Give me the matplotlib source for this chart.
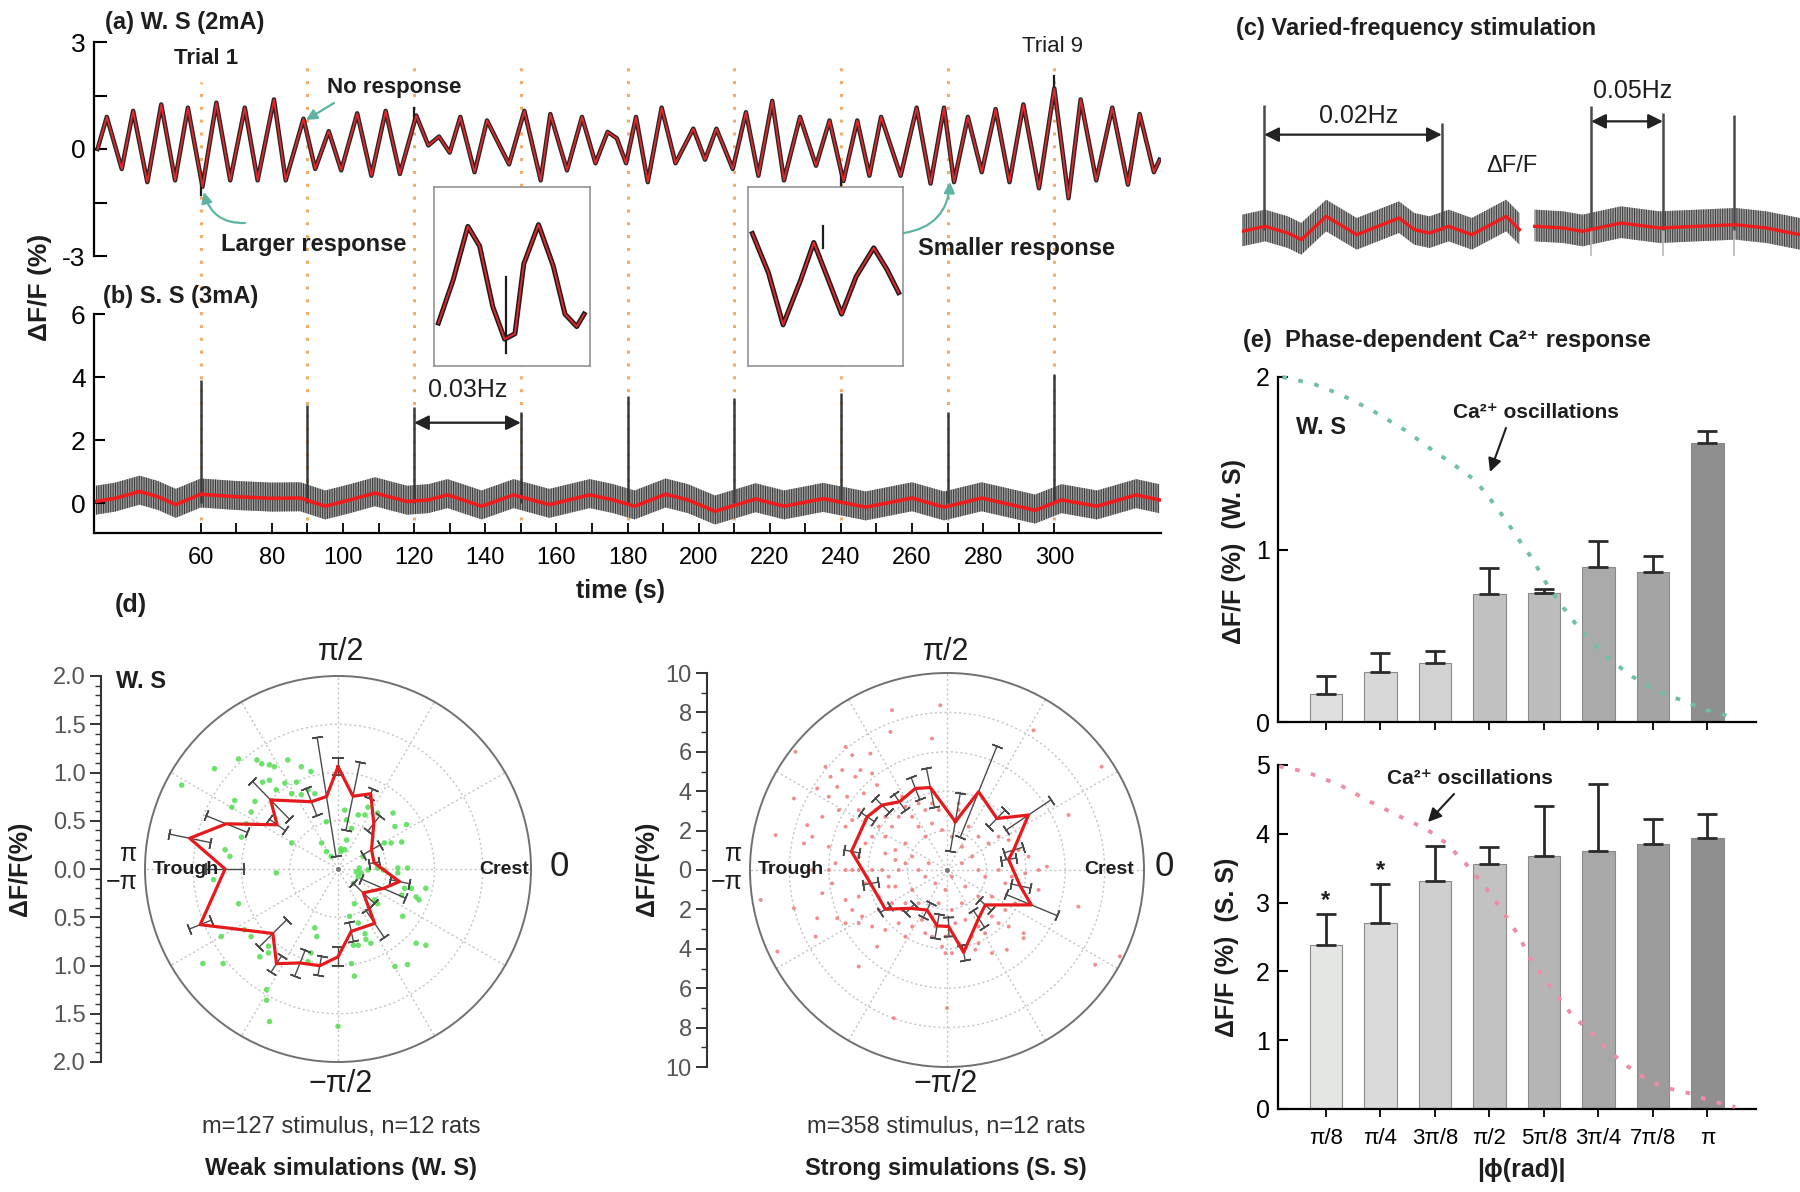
import numpy as np
import matplotlib
matplotlib.use("Agg")
import matplotlib.pyplot as plt
import matplotlib.transforms as mtransforms
from matplotlib.lines import Line2D
from matplotlib.patches import FancyArrowPatch
from matplotlib.ticker import MultipleLocator

plt.rcParams['font.family'] = ['Liberation Sans', 'DejaVu Sans']
plt.rcParams['axes.unicode_minus'] = False
plt.rcParams['hatch.linewidth'] = 0.8

# ======================= DATA =======================
stim_times = [60, 90, 120, 150, 180, 210, 240, 270, 300]

# (a) W.S trace, peak / trough vertices (time s, dF/F %)
ws_trace = [(31, 0.0), (33.6, 0.9), (37.8, -0.56), (41, 1.07), (45, -0.93), (48.9, 1.25),
            (52.8, -0.88), (56.4, 1.16), (60.5, -1.06), (64.4, 1.3), (68.3, -0.88), (72.4, 1.16),
            (76, -0.88), (80.6, 1.39), (83.9, -0.88), (88.9, 0.85), (92.2, -0.56), (96, 0.5),
            (99.5, -0.6), (104, 1.0), (108, -0.75), (112, 1.07), (116, -0.7), (120.6, 0.94),
            (124, 0.1), (127, 0.35), (130, -0.1), (133, 0.9), (137, -0.65), (140.5, 0.8),
            (146.7, -0.43), (151, 1.07), (155.6, -0.88), (158.3, 0.98), (163, -0.6), (167.2, 0.9),
            (171, -0.4), (174.4, 0.48), (177, 0.3), (179.6, -0.4), (182.4, 0.9), (185.7, -0.93),
            (189.6, 1.16), (193.5, -0.4), (198.5, 0.57), (201.8, -0.3), (205, 0.57), (209.6, -0.56),
            (213.3, 1.03), (216.8, -0.75), (220.7, 1.35), (224, -0.88), (228.5, 0.9), (233, -0.47),
            (236.8, 0.8), (240.7, -0.9), (244.6, 0.8), (248, -0.75), (251.3, 0.9), (256.8, -0.75),
            (261.3, 1.16), (265.2, -0.97), (269, 1.16), (271.8, -0.93), (275.7, 0.9), (279.6, -0.65),
            (283.5, 1.12), (287.4, -0.93), (291.3, 1.25), (295.7, -1.1), (300, 1.7), (304, -1.38),
            (307.4, 1.39), (311.8, -0.88), (316.3, 1.16), (320.7, -1.0), (324, 0.98), (328, -0.65),
            (329.6, -0.3)]
ws_spike_t = [60, 120, 240, 300]
ws_spike_v = [-1.3, 1.15, -1.45, 2.05]

# (b) S.S slow trace (time s, dF/F %) and stimulus spikes
ss_trace = [(30.5, 0.05), (36, 0.15), (42.8, 0.37), (48, 0.2), (53, -0.05), (60, 0.28), (70, 0.2),
            (80, 0.15), (88, 0.16), (95, -0.1), (102, 0.1), (109, 0.32), (118, 0.05), (124, 0.1),
            (129.4, 0.26), (139, -0.1), (148, 0.26), (158, -0.05), (169.4, 0.26), (176, 0.1),
            (182, -0.1), (190.7, 0.28), (197, 0.1), (204.6, -0.26), (216, 0.13), (224, -0.1),
            (235, 0.14), (247, -0.13), (260, 0.16), (269, -0.13), (279.6, 0.16), (294.6, -0.23),
            (302, 0.1), (312, -0.1), (323, 0.26), (329.5, 0.1)]
ss_spike_v = [3.9, 3.1, 3.05, 2.9, 3.4, 3.35, 3.5, 2.9, 4.1]

# insets (normalised inset coordinates)
ins1_x = [0.0, 0.10, 0.20, 0.28, 0.37, 0.45, 0.52, 0.58, 0.68, 0.78, 0.86, 0.94, 0.99]
ins1_y = [0.24, 0.48, 0.78, 0.67, 0.33, 0.15, 0.18, 0.57, 0.79, 0.56, 0.29, 0.22, 0.29]
ins1_spike = (0.46, 0.50, 0.07)
ins2_x = [0.0, 0.11, 0.21, 0.33, 0.42, 0.52, 0.61, 0.71, 0.83, 0.92, 1.0]
ins2_y = [0.74, 0.52, 0.23, 0.48, 0.69, 0.48, 0.29, 0.50, 0.66, 0.54, 0.41]
ins2_spike = (0.48, 0.66, 0.78)

# (c) varied-frequency traces (time s, dF/F a.u.)
c_left = [(0, -0.05), (6.5, 0.1), (12.9, -0.1), (16.7, -0.3), (23.7, 0.4), (32.3, -0.15),
          (44.2, 0.35), (48.5, 0.0), (52.8, -0.1), (58.2, 0.1), (64.7, -0.15), (74.4, 0.4), (78.1, 0.0)]
c_right = [(82.4, 0.1), (90.5, 0.05), (95.9, -0.05), (106.7, 0.2), (117.5, 0.05), (128.2, 0.1),
           (139.0, 0.15), (147.6, 0.05), (157.1, -0.15)]
c_spike_t = [6.25, 56.25, 98.3, 118.5, 138.5]
c_spike_v = [3.75, 3.2, 3.7, 3.5, 3.45]

# (d) polar: mean response per phase bin (deg, dF/F %) + error
ws_phase = [90, 78.4, 66.5, 51.8, 29.7, 9.8, -11.6, -23.3, -43.4, -56, -78, -90, -100.7, -112,
            -123, -135.3, -158, -180, 168.3, 158, 144, 134.3, 111.6, 99]
ws_amp = [1.06, 0.77, 0.85, 0.60, 0.40, 0.38, 0.65, 0.51, 0.36, 0.68, 0.66, 0.91, 1.02, 1.05,
          1.17, 0.95, 1.54, 1.17, 1.57, 1.25, 0.78, 1.0, 0.75, 0.76]
ws_err = [0.09, 0.36, 0.05, 0.10, 0.10, 0.05, 0.10, 0.25, 0.15, 0.17, 0.10, 0.10, 0.10, 0.15,
          0.10, 0.20, 0.12, 0.20, 0.22, 0.23, 0.10, 0.27, 0.15, 0.62]
ss_phase = [80.2, 68.0, 45.9, 34.0, 16.7, 9.8, -12.3, -22.5, -42.4, -56.8, -78.6, -88.3, -100.0,
            -116.6, -133.7, -147.5, -170.0, 169.0, 146.3, 135.0, 124.9, 111.2, 101.4]
ss_amp = [2.49, 4.28, 3.64, 4.99, 3.53, 3.17, 3.80, 4.63, 2.63, 2.93, 4.27, 2.87, 2.88, 2.27,
          2.69, 3.71, 3.94, 4.94, 4.87, 4.66, 4.22, 4.44, 4.27]
ss_err = [1.5, 2.5, 0.6, 1.4, 0.5, 0.4, 0.5, 1.4, 0.4, 0.5, 0.4, 0.5, 0.6, 0.4, 0.3, 0.3, 0.4,
          0.4, 0.4, 0.5, 0.5, 0.6, 1.0]

# individual stimulus responses (dF/F*cos(phase), dF/F*sin(phase))
ws_points = [(-1.62, 0.87), (-1.28, 1.04), (-1.03, 1.14), (-0.84, 1.13), (-0.79, 1.09), (-0.71, 1.08),
             (-0.66, 1.06), (-0.52, 1.13), (-0.38, 1.06), (-0.28, 1.01), (-0.78, 0.90), (-0.71, 0.92),
             (-0.64, 0.82), (-0.55, 0.89), (-0.43, 0.90), (-0.38, 0.77), (-0.31, 0.82), (-0.24, 0.78),
             (-0.48, 0.78), (-1.10, 0.64), (-1.07, 0.71), (-0.86, 0.70), (-0.90, 0.59), (-0.95, 0.47),
             (-1.00, 0.33), (-1.17, 0.20), (-0.48, 0.27), (-0.64, -0.04), (-0.12, 0.18), (-0.07, 0.13),
             (0.03, 0.21), (0.07, 0.20), (0.09, 0.30), (0.14, 0.42), (0.21, 0.56), (0.28, 0.56),
             (0.31, 0.64), (0.41, 0.58), (0.57, 0.58), (0.71, 0.46), (0.66, 0.28), (0.55, 0.27),
             (0.48, 0.27), (0.59, 0.44), (0.26, 0.13), (0.22, 0.01), (0.19, -0.03), (0.21, -0.08),
             (0.24, -0.04), (0.31, -0.01), (0.41, 0.01), (0.47, -0.01), (0.62, 0.01), (0.72, 0.01),
             (0.62, -0.04), (0.69, -0.20), (0.76, -0.20), (0.66, -0.27), (0.81, -0.29), (0.91, -0.20),
             (0.84, -0.32), (0.67, -0.49), (0.38, -0.32), (0.41, -0.36), (0.16, -0.15), (0.17, -0.36),
             (0.12, -0.49), (0.21, -0.56), (0.28, -0.67), (0.29, -0.73), (0.34, -0.77), (0.21, -0.79),
             (0.16, -0.79), (0.14, -0.98), (0.17, -1.11), (0.59, -1.01), (0.72, -0.99), (0.81, -0.77),
             (0.91, -0.79), (-0.24, -0.61), (-0.22, -0.70), (-0.28, -0.87), (-0.31, -0.96), (-0.72, -0.80),
             (-0.72, -0.87), (-0.81, -0.91), (-0.90, -0.70), (-1.21, -0.70), (-1.19, -0.98), (-1.40, -0.98),
             (-1.29, -0.11), (-0.74, -1.25), (-0.74, -1.36), (-0.71, -1.58), (0.00, -1.63), (0.07, 0.61),
             (0.09, 0.51), (-0.12, 0.49), (-0.17, 0.27), (0.03, 0.18), (-1.12, 0.13), (-1.03, -0.36),
             (-0.97, -0.63)]
ss_points = [(-0.34, 8.36), (-2.79, 8.11), (-0.76, 6.67), (-2.87, 7.01), (4.39, 7.09), (7.85, 5.24),
             (-7.69, 6.0), (-5.15, 6.25), (-4.81, 5.83), (-3.89, 5.91), (-7.77, 3.63), (-8.70, 1.77),
             (-9.46, -1.52), (-7.77, -1.94), (-8.61, -4.14), (-6.59, -2.45), (-6.67, -3.38), (-4.48, -4.90),
             (-3.55, -3.89), (-2.70, -7.52), (0.0, -7.01), (2.28, -4.22), (3.04, -4.05), (3.89, -3.21),
             (3.89, -3.46), (6.67, -1.86), (7.52, -4.81), (8.78, -4.39), (6.17, 2.79), (5.07, 0.17),
             (4.65, 0.0), (3.13, -2.87), (1.44, -4.05), (-0.08, -4.22), (-6.17, 5.24), (-5.91, 4.73),
             (-6.59, 4.14), (-6.0, 3.72), (-5.57, 4.22), (-5.32, 5.07), (-4.65, 4.73), (-4.39, 5.07),
             (-3.80, 4.90), (-3.55, 4.31), (-4.22, 3.89), (-5.07, 3.72), (-5.49, 3.04), (-6.33, 2.70),
             (-7.09, 2.28), (-6.84, 1.69), (-7.26, 1.35), (-6.0, 1.18), (-5.15, 2.20), (-4.81, 2.53),
             (-4.48, 3.04), (-5.66, 0.34), (-5.15, 0.0), (-5.83, -0.68), (-6.33, -1.18), (-5.15, -1.52),
             (-4.81, -2.03), (-5.57, -2.45), (-4.31, -2.36), (-3.80, -2.87), (-5.15, -2.70), (-3.13, -3.04),
             (-2.45, -2.70), (-2.11, -3.38), (-1.77, -2.87), (-1.10, -3.21), (-0.76, -3.38), (-0.25, -3.89),
             (0.25, -4.22), (0.59, -3.72), (1.27, -3.38), (1.60, -3.72), (1.94, -3.21), (2.62, -2.70),
             (2.96, -2.03), (3.46, -1.69), (2.28, -1.35), (1.60, -1.35), (0.93, -0.84), (0.76, -1.69),
             (0.25, -2.03), (-0.42, -1.69), (-0.76, -2.36), (-1.44, -1.69), (-1.77, -1.01), (-2.11, -1.69),
             (-2.62, -0.84), (-2.96, -0.34), (-3.29, 0.0), (-3.80, 0.0), (-4.14, -0.68), (-4.48, -1.35),
             (-3.46, -1.35), (-2.79, -1.69), (-2.28, -2.03), (-3.13, 0.84), (-2.62, 1.01), (-2.11, 1.35),
             (-1.77, 0.68), (-1.44, 0.0), (-0.93, 0.34), (-1.10, -0.34), (-0.59, -0.68), (-0.08, -1.01),
             (0.25, -0.34), (0.76, 0.34), (1.27, 0.68), (1.60, 0.0), (1.94, -0.34), (2.62, 0.0),
             (2.96, -0.68), (0.76, 1.18), (0.25, 1.69), (-0.25, 2.03), (-0.76, 2.36), (-1.10, 1.69),
             (-1.44, 2.20), (-1.77, 2.70), (-2.11, 3.21), (-2.45, 2.70), (-2.79, 2.20), (-3.13, 1.69),
             (-3.46, 2.20), (-3.80, 1.69), (-4.14, 1.35), (-4.48, 0.68), (-4.81, 0.0), (-2.79, 3.38),
             (-2.28, 3.72), (-1.44, 3.38), (-1.10, 3.04), (-0.76, 3.38), (-0.42, 3.04), (0.59, 3.04),
             (0.59, 3.38), (1.10, 2.20), (1.60, 1.69), (2.11, 1.35), (2.62, 1.69), (3.13, 1.52),
             (3.63, 1.01), (4.14, 0.68), (3.97, -0.17), (4.65, -1.01), (3.29, -0.34), (-3.13, 2.70),
             (-4.14, 2.53), (-3.63, 3.04), (-6.0, 0.0), (-6.84, 0.0), (-4.48, 0.0), (-2.45, 0.0),
             (-2.11, 0.34), (-2.62, 0.51), (-2.96, -0.84), (-3.46, -2.03), (-4.48, -2.70), (-1.27, -2.53),
             (-0.59, -2.87), (-0.08, -3.38), (0.42, -2.70), (0.93, -2.53), (1.60, -2.87), (2.28, -2.36)]

# (e) phase-dependent responses
phase_labels = ['\u03c0/8', '\u03c0/4', '3\u03c0/8', '\u03c0/2', '5\u03c0/8', '3\u03c0/4', '7\u03c0/8', '\u03c0']
ws_bar = [0.16, 0.29, 0.34, 0.74, 0.75, 0.90, 0.87, 1.62]
ws_bar_err = [0.105, 0.11, 0.07, 0.15, 0.02, 0.15, 0.09, 0.065]
ss_bar = [2.38, 2.71, 3.31, 3.56, 3.68, 3.75, 3.85, 3.94]
ss_bar_err = [0.45, 0.56, 0.51, 0.25, 0.72, 0.97, 0.37, 0.35]
ss_star_bars = [0, 1]
ws_osc_x = [0.20, 0.77, 1.26, 1.83, 2.46, 2.89, 3.31, 3.74, 4.02, 4.30, 4.51, 4.80, 5.01, 5.29,
            5.58, 5.86, 6.21, 6.64, 7.06, 7.49, 7.98, 8.55]
ws_osc_y = [2.0, 1.96, 1.90, 1.81, 1.69, 1.59, 1.50, 1.40, 1.29, 1.17, 1.07, 0.94, 0.82, 0.69,
            0.57, 0.47, 0.36, 0.26, 0.18, 0.13, 0.07, 0.02]
ss_osc_x = [0.14, 0.46, 0.81, 1.30, 1.80, 2.36, 2.86, 3.21, 3.56, 3.92, 4.27, 4.55, 4.76, 4.98,
            5.26, 5.54, 5.82, 6.11, 6.46, 6.81, 7.17, 7.66, 8.01, 8.51]
ss_osc_y = [4.98, 4.93, 4.85, 4.69, 4.47, 4.25, 4.06, 3.86, 3.57, 3.23, 2.84, 2.50, 2.17, 1.92,
            1.63, 1.34, 1.15, 0.91, 0.66, 0.47, 0.32, 0.23, 0.13, 0.03]

# ======================= FIGURE =======================
W, H = 1800, 1192
fig = plt.figure(figsize=(18, 11.92), dpi=100)
TXT = '#1e1e1e'


def box(x0, y0, x1, y1):
    return [x0 / W, 1 - y1 / H, (x1 - x0) / W, (y1 - y0) / H]


def P(x, y):
    return (x / W, 1 - y / H)


def T(x, y, s, **kw):
    kw.setdefault('color', TXT)
    return fig.text(x / W, 1 - y / H, s, **kw)


def farrow(p0, p1, rad=0.0, color='#5fb3a3', lw=1.6, ms=16):
    fig.add_artist(FancyArrowPatch(P(*p0), P(*p1), transform=fig.transFigure,
                                   arrowstyle='-|>', mutation_scale=ms, color=color, lw=lw,
                                   connectionstyle='arc3,rad=%s' % rad, shrinkA=0, shrinkB=0))


# ---------- (a) ----------
wt = np.array([p[0] for p in ws_trace]); wv = np.array([p[1] for p in ws_trace])
axA = fig.add_axes(box(94, 42, 1161, 256))
axA.set_zorder(2); axA.patch.set_alpha(0)
axA.set_xlim(30, 330); axA.set_ylim(-3, 3)
for s in ['top', 'right', 'bottom']:
    axA.spines[s].set_visible(False)
axA.spines['left'].set_linewidth(1.6)
axA.set_xticks([])
axA.set_yticks([-3, 0, 3]); axA.set_yticks([-1.5, 1.5], minor=True)
axA.tick_params(axis='y', which='both', direction='in', length=9, width=1.5, labelsize=19, pad=6)
axA.plot(wt, wv, color='#262626', lw=3.2, solid_joinstyle='round')
for t, v in zip(ws_spike_t, ws_spike_v):
    axA.plot([t, t], [np.interp(t, wt, wv), v], color='#1c1c1c', lw=1.6)
axA.plot(wt, wv, color='#e8262a', lw=1.3)

# ---------- (b) ----------
st = np.array([p[0] for p in ss_trace]); sv = np.array([p[1] for p in ss_trace])
axB = fig.add_axes(box(94, 314, 1161, 533))
axB.set_zorder(2); axB.patch.set_alpha(0)
axB.set_xlim(30, 330); axB.set_ylim(-0.95, 6)
for s in ['top', 'right']:
    axB.spines[s].set_visible(False)
axB.spines['left'].set_linewidth(1.6); axB.spines['bottom'].set_linewidth(1.6)
axB.set_yticks([0, 2, 4, 6])
axB.set_xticks(range(60, 301, 20)); axB.set_xticks(range(60, 301, 10), minor=True)
axB.tick_params(axis='y', direction='in', length=8, width=1.5, labelsize=19, pad=6)
axB.tick_params(axis='x', which='both', direction='in', length=7, width=1.3, labelsize=17, pad=10)
axB.fill_between(st, sv - 0.42, sv + 0.5, facecolor='#a2a2a2', edgecolor='#3c3c3c',
                 hatch='|||||||', linewidth=0)
axB.vlines(stim_times, 0, ss_spike_v, color='#3a3a3a', lw=1.8)
axB.plot(st, sv, color='#ee1c1c', lw=2.6)
axB.annotate('', xy=(150, 2.55), xytext=(120, 2.55),
             arrowprops=dict(arrowstyle='<|-|>', color='#222', lw=1.6, mutation_scale=22,
                             shrinkA=0, shrinkB=0))
axB.text(135, 3.6, '0.03Hz', ha='center', va='center', fontsize=18, color=TXT)

# dotted stimulus lines spanning (a) and (b)
trans = mtransforms.blended_transform_factory(axB.transData, fig.transFigure)
for t in stim_times:
    ytop = 82 if t == 60 else 60
    fig.add_artist(Line2D([t, t], [1 - 520 / H, 1 - ytop / H], transform=trans, color='#f0ad6a',
                          lw=2.2, ls=(0, (1, 3.2)), zorder=1))

# insets
for rect, xs, ys, spk in [((434, 187, 590, 366), ins1_x, ins1_y, ins1_spike),
                          ((748, 187, 903, 366), ins2_x, ins2_y, ins2_spike)]:
    axi = fig.add_axes(box(*rect))
    axi.set_zorder(3)
    axi.set_xlim(-0.03, 1.03); axi.set_ylim(0, 1)
    axi.set_xticks([]); axi.set_yticks([])
    for s in axi.spines.values():
        s.set_color('#8a8a8a'); s.set_linewidth(1.1)
    axi.plot(xs, ys, color='#1c1c1c', lw=3.6)
    axi.plot([spk[0], spk[0]], [spk[1], spk[2]], color='#1c1c1c', lw=1.6)
    axi.plot(xs, ys, color='#e8262a', lw=1.4)

T(105, 22, '(a) W. S (2mA)', fontsize=17, fontweight='bold', va='center')
T(206, 58, 'Trial 1', fontsize=16, fontweight='bold', ha='center', va='center')
T(394, 88, 'No response', fontsize=16, fontweight='bold', ha='center', va='center')
T(314, 245, 'Larger response', fontsize=17, fontweight='bold', ha='center', va='center')
T(1053, 47, 'Trial 9', fontsize=16, ha='center', va='center')
T(1017, 248, 'Smaller response', fontsize=17, fontweight='bold', ha='center', va='center')
T(103, 296, '(b) S. S (3mA)', fontsize=17, fontweight='bold', va='center')
T(620, 591, 'time (s)', fontsize=18, fontweight='bold', ha='center', va='center')
T(40, 287, '\u0394F/F (%)', fontsize=19, fontweight='bold', rotation=90, ha='center', va='center')
farrow((334, 103), (306, 120))
farrow((245, 223), (204, 192), rad=-0.4)
farrow((904, 233), (950, 182), rad=0.4)

# ---------- (c) ----------
axC = fig.add_axes(box(1242, 63, 1800, 263))
axC.set_xlim(0, 157.1); axC.set_ylim(-1, 5); axC.axis('off')
for seg in [c_left, c_right]:
    tt = np.array([p[0] for p in seg]); vv = np.array([p[1] for p in seg])
    axC.fill_between(tt, vv - 0.45, vv + 0.5, facecolor='#a8a8a8', edgecolor='#404040',
                     hatch='|||||||', linewidth=0)
axC.vlines(c_spike_t[2:], -0.8, 0, color='#b8b8b8', lw=1.2)
axC.vlines(c_spike_t, 0, c_spike_v, color='#4a4a4a', lw=1.8)
for seg in [c_left, c_right]:
    axC.plot([p[0] for p in seg], [p[1] for p in seg], color='#ee1c1c', lw=2.4)
axC.annotate('', xy=(c_spike_t[1], 2.85), xytext=(c_spike_t[0], 2.85),
             arrowprops=dict(arrowstyle='<|-|>', color='#222', lw=1.6, mutation_scale=22,
                             shrinkA=0, shrinkB=0))
axC.annotate('', xy=(c_spike_t[3], 3.25), xytext=(c_spike_t[2], 3.25),
             arrowprops=dict(arrowstyle='<|-|>', color='#222', lw=1.6, mutation_scale=22,
                             shrinkA=0, shrinkB=0))
axC.text(32.9, 3.4, '0.02Hz', ha='center', va='center', fontsize=18, color=TXT)
axC.text(109.9, 4.15, '0.05Hz', ha='center', va='center', fontsize=18, color=TXT)
axC.text(76, 1.9, '\u0394F/F', ha='center', va='center', fontsize=17, color=TXT)
T(1236, 28, '(c) Varied-frequency stimulation', fontsize=17, fontweight='bold', va='center')

# ---------- (d) ----------
T(115, 605, '(d)', fontsize=18, fontweight='bold', va='center')


def polar_panel(rect, rmax, rings, phase, amp, err, pts, pcol, psize, palpha):
    ax = fig.add_axes(box(*rect), projection='polar')
    ax.set_ylim(0, rmax)
    ax.set_yticks(rings); ax.set_yticklabels([])
    ax.set_xticks(np.deg2rad(np.arange(0, 360, 30))); ax.set_xticklabels([])
    ax.grid(True, color='#c4c4c4', ls=(0, (1.5, 2)), lw=1.0)
    ax.spines['polar'].set_color('#707070'); ax.spines['polar'].set_linewidth(1.4)
    px = np.array([p[0] for p in pts]); py = np.array([p[1] for p in pts])
    ax.scatter(np.arctan2(py, px), np.hypot(px, py), s=psize, color=pcol, alpha=palpha,
               edgecolors='none', zorder=2)
    th = np.deg2rad(phase); r = np.array(amp); e = np.array(err)
    for ti, ri, ei, dg in zip(th, r, e, phase):
        ax.plot([ti, ti], [ri - ei, ri + ei], color='#4a4a4a', lw=1.0, zorder=3)
        ax.plot([ti, ti], [ri - ei, ri + ei], ls='none', marker=(2, 2, dg), ms=8, mew=1.1,
                color='#4a4a4a', zorder=3)
    ax.plot(np.append(th, th[0]), np.append(r, r[0]), color='#e41a1c', lw=2.3, zorder=4)
    ax.plot([0], [0], marker='o', ms=2.5, color='#777', zorder=4)
    return ax


polar_panel((145, 676, 531, 1062), 2.0, [0.5, 1.0, 1.5], ws_phase, ws_amp, ws_err, ws_points,
            '#52dd52', 16, 0.85)
polar_panel((750, 673, 1144, 1067), 10.0, [2, 4, 6, 8], ss_phase, ss_amp, ss_err, ss_points,
            '#f07070', 8, 0.8)

for (xs, y0, y1, lim, step, minor, fmt) in [(101, 676, 1062, 2.0, 0.5, 0.1, '%.1f'),
                                            (707, 673, 1067, 10.0, 2, 1, '%d')]:
    axs = fig.add_axes(box(xs, y0, xs + 2, y1))
    axs.set_ylim(-lim, lim)
    for s in ['top', 'right', 'bottom']:
        axs.spines[s].set_visible(False)
    axs.spines['left'].set_linewidth(1.5); axs.spines['left'].set_color('#333')
    axs.set_xticks([])
    ticks = np.arange(-lim, lim + step / 2, step)
    axs.set_yticks(ticks)
    axs.set_yticklabels([fmt % abs(v) for v in ticks])
    axs.yaxis.set_minor_locator(MultipleLocator(minor))
    axs.tick_params(axis='y', which='major', direction='out', length=8, width=1.4,
                    labelsize=17, labelcolor='#555', color='#333', pad=3)
    axs.tick_params(axis='y', which='minor', direction='out', length=4, width=1.0, color='#333')

for cx, ylx, ptx, mtxt, btxt in [(341, 20, 128, 'm=127 stimulus, n=12 rats', 'Weak simulations (W. S)'),
                                 (946, 647, 733, 'm=358 stimulus, n=12 rats', 'Strong simulations (S. S)')]:
    T(ylx, 869, '\u0394F/F(%)', fontsize=18, fontweight='bold', rotation=90, ha='center', va='center')
    T(cx, 652, '\u03c0/2', fontsize=22, ha='center', va='center')
    T(cx, 1084, '\u2212\u03c0/2', fontsize=22, ha='center', va='center')
    T(cx + 218, 866, '0', fontsize=25, ha='center', va='center')
    T(ptx, 854, '\u03c0', fontsize=18, ha='center', va='center')
    T(ptx - 6, 882, '\u2212\u03c0', fontsize=18, ha='center', va='center')
    T(cx - 155, 870, 'Trough', fontsize=14, fontweight='bold', ha='center', va='center')
    T(cx + 163, 870, 'Crest', fontsize=14, fontweight='bold', ha='center', va='center')
    T(cx, 1127, mtxt, fontsize=17, ha='center', va='center', color='#333')
    T(cx, 1168, btxt, fontsize=17, fontweight='bold', ha='center', va='center')
T(116, 682, 'W. S', fontsize=17, fontweight='bold', va='center')

# ---------- (e) ----------
T(1243, 340, '(e)  Phase-dependent Ca\u00b2\u207a response', fontsize=17, fontweight='bold', va='center')
pos = np.arange(1, 9)
top_cols = ['#dedede', '#d8d8d8', '#d2d2d2', '#c1c1c1', '#bcbcbc', '#aaaaaa', '#a4a4a4', '#8f8f8f']
bot_cols = ['#e4e6e4', '#dadada', '#cfcfcf', '#c2c2c2', '#b5b5b5', '#a8a8a8', '#9c9c9c', '#8f8f8f']

for rect, vals, errs, cols, ylim, yt, ox, oy, ocol in [
        ((1278, 377, 1756, 722), ws_bar, ws_bar_err, top_cols, 2, [0, 1, 2], ws_osc_x, ws_osc_y, '#6fbfa9'),
        ((1278, 765, 1756, 1109), ss_bar, ss_bar_err, bot_cols, 5, [0, 1, 2, 3, 4, 5], ss_osc_x, ss_osc_y, '#ee8ea4')]:
    ax = fig.add_axes(box(*rect))
    ax.set_xlim(0.12, 8.89); ax.set_ylim(0, ylim)
    for s in ['top', 'right']:
        ax.spines[s].set_visible(False)
    ax.spines['left'].set_linewidth(1.6); ax.spines['bottom'].set_linewidth(1.6)
    ax.bar(pos, vals, width=0.6, color=cols, edgecolor='#8a8a8a', lw=0.8, zorder=2)
    ax.errorbar(pos, vals, yerr=[np.zeros(8), errs], fmt='none', ecolor='#2a2a2a',
                elinewidth=2, capsize=7, capthick=2, zorder=3)
    ax.plot(ox, oy, color=ocol, ls=(0, (1.2, 3)), lw=2.8, clip_on=False, zorder=4)
    ax.set_yticks(yt)
    ax.set_xticks(pos)
    ax.tick_params(axis='y', direction='in', length=7, width=1.5, labelsize=18, pad=6)
    ax.tick_params(axis='x', direction='out', length=6, width=1.3, labelsize=16, pad=8)
    if ylim == 2:
        ax.set_xticklabels([])
    else:
        ax.set_xticklabels(phase_labels)
        for i in ss_star_bars:
            ax.text(pos[i], vals[i] + errs[i] + 0.2, '*', ha='center', va='center',
                    fontsize=17, fontweight='bold', color=TXT)

T(1234, 551, '\u0394F/F (%)  (W. S)', fontsize=18, fontweight='bold', rotation=90, ha='center', va='center')
T(1227, 947, '\u0394F/F (%)  (S. S)', fontsize=18, fontweight='bold', rotation=90, ha='center', va='center')
T(1296, 427, 'W. S', fontsize=17, fontweight='bold', va='center')
T(1536, 412, 'Ca\u00b2\u207a oscillations', fontsize=15, fontweight='bold', ha='center', va='center')
T(1470, 778, 'Ca\u00b2\u207a oscillations', fontsize=15, fontweight='bold', ha='center', va='center')
farrow((1506, 428), (1490, 472), color='#1e1e1e', lw=1.5, ms=20)
farrow((1454, 794), (1428, 822), color='#1e1e1e', lw=1.5, ms=20)
T(1521, 1170, '|\u03d5(rad)|', fontsize=18, fontweight='bold', ha='center', va='center')

fig.savefig('out.png', dpi=100, facecolor='white')
